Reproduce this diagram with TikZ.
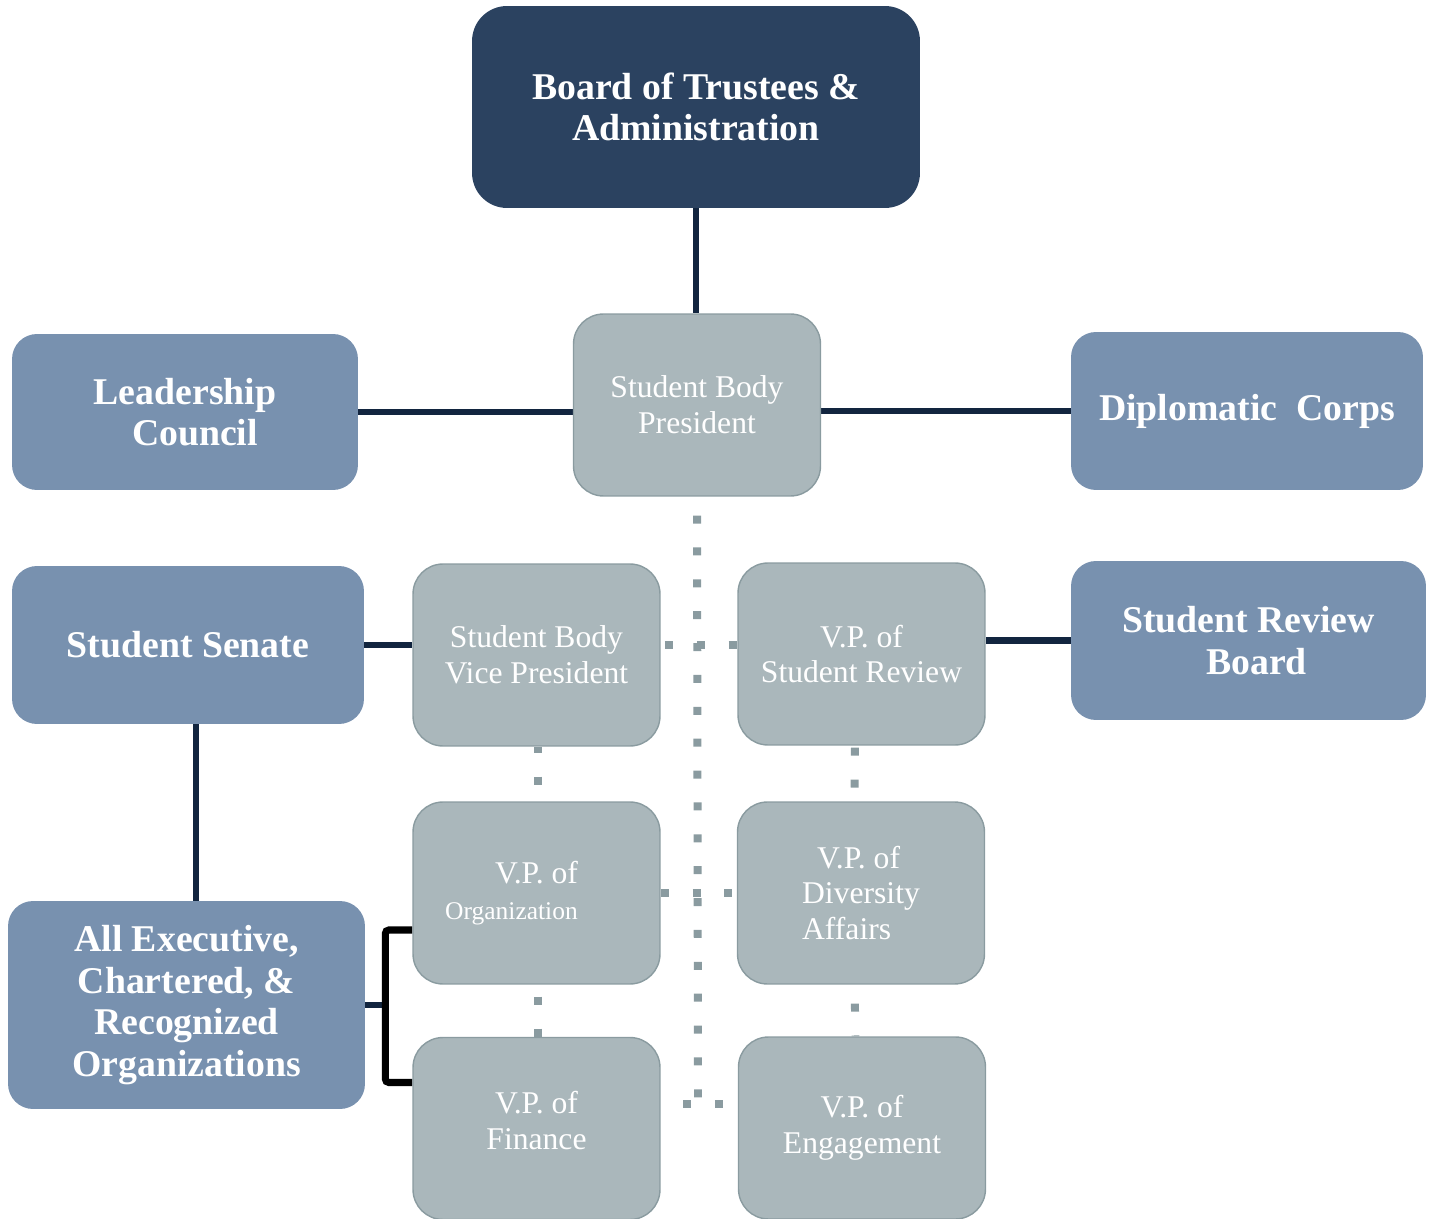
\documentclass[tikz,border=0pt]{standalone}
\usepackage{fontspec}
\setmainfont{Liberation Serif}
\usetikzlibrary{backgrounds}
\definecolor{boardfill}{RGB}{43,66,96}
\definecolor{unitfill}{RGB}{120,145,175}
\definecolor{officefill}{RGB}{170,183,187}
\definecolor{officeline}{RGB}{138,155,160}
\definecolor{linknavy}{RGB}{18,37,63}
\begin{document}
\begin{tikzpicture}[
        x=0.02cm, y=-0.02cm,
        board/.style={
            fill=boardfill,
            rounded corners=0.7cm,
            text=white,
            align=center,
            font=\fontsize{21.5}{23.3}\selectfont\bfseries,
            minimum width=8.96cm,
            minimum height=4.04cm,
        },
        unit/.style={
            fill=unitfill,
            rounded corners=0.5cm,
            text=white,
            align=center,
            font=\fontsize{21.5}{23.6}\selectfont\bfseries,
        },
        office/.style={
            fill=officefill,
            draw=officeline,
            line width=0.8pt,
            rounded corners=0.6cm,
            text=white,
            align=center,
            font=\fontsize{18}{20.4}\selectfont,
            minimum width=4.94cm,
            minimum height=3.64cm,
        },
        link/.style={draw=linknavy, line width=3.8pt},
        bracket/.style={draw=black, line width=4pt, rounded corners=2pt},
        dotlink/.style={
            draw=officeline,
            line width=4.54pt,
            dash pattern=on 4.54pt off 13.6pt,
            dash phase=#1,
        },
        dotlink/.default=0pt,
    ]
    \useasboundingbox (0,0) rectangle (1434,1219);

    % top and first row
    \node[board] (board) at (696,107) {Board of Trustees \&\\Administration};
    \node[office] (sbp) at (697,405) {Student Body\\President};
    \node[unit, minimum width=6.92cm, minimum height=3.12cm] (lead) at (185,412)
        {Leadership\\\hspace*{0.4cm}Council};
    \node[unit, minimum width=7.04cm, minimum height=3.16cm] (diplo) at (1247,411)
        {Diplomatic\ \ Corps};

    % second row
    \node[unit, minimum width=7.04cm, minimum height=3.16cm] (senate) at (188,645)
        {Student Senate};
    \node[office] (sbvp) at (536.5,655) {Student Body\\Vice President};
    \node[office] (vsr) at (861.5,654) {V.P. of\\Student Review};
    \node[unit, minimum width=7.1cm, minimum height=3.18cm] (srb) at (1248.5,640.5)
        {Student Review\\\hspace*{0.32cm}Board};

    % vice presidents
    \node[office] (vporg) at (536.5,893)
        {V.P. of\\{\fontsize{14.5}{17}\selectfont Organization}\hspace*{1cm}};
    \node[office, align=left] (vpdiv) at (861,893)
        {\hspace*{0.3cm}V.P. of\\Diversity\\Affairs};
    \node[unit, minimum width=7.14cm, minimum height=4.16cm] (allorg) at (186.5,1005)
        {All Executive,\\Chartered, \&\\Recognized\\Organizations};
    \node[office] (vpfin) at (536.5,1128.5) {V.P. of\\Finance\\[-0.4cm]};
    \node[office] (vpeng) at (862,1128) {V.P. of\\Engagement};

    \begin{scope}[on background layer]
        \draw[link] (board.south) -- (board.south |- sbp.north);
        \draw[link] (lead.east) -- (sbp.west |- lead.east);
        \draw[link] (diplo.west) -- (sbp.east |- diplo.west);
        \draw[link] (senate.east) -- (sbvp.west |- senate.east);
        \draw[link] (srb.west) -- (vsr.east |- srb.west);
        \draw[link] ([xshift=0.16cm]senate.south) -- ([xshift=0.16cm]senate.south |- allorg.north);
        \draw[link] (allorg.east) -- ++(0.44cm,0);
        \draw[bracket] ([yshift=-0.74cm]vporg.west) -- ++(-0.54cm,0)
            |- ([yshift=0.92cm]vpfin.west);

        % dotted links
        \coordinate (dotend) at (698,1099);
        \coordinate (vpdot) at (660,645);
        \coordinate (findot) at (683,1104);
        \draw[dotlink=7.37pt] (sbp.south) -- (dotend);
        \draw[dotlink=15.3pt] (vpdot) -- (vsr.west |- vpdot);
        \draw[dotlink] (vporg.east) -- (vpdiv.west);
        \draw[dotlink] (findot) -- (vpeng.west |- findot);
        \draw[dotlink=1.13pt] ([xshift=0.03cm]sbvp.south) -- ([xshift=0.03cm]vporg.north);
        \draw[dotlink=11.3pt] ([xshift=0.03cm]vporg.south) -- ([xshift=0.03cm]vpfin.north);
        \draw[dotlink=17pt] ([xshift=-0.13cm]vsr.south) -- ([xshift=-0.13cm]vpdiv.north);
        \draw[dotlink=7.37pt] ([xshift=-0.13cm]vpdiv.south) -- ([xshift=-0.13cm]vpeng.north);
    \end{scope}
\end{tikzpicture}
\end{document}
